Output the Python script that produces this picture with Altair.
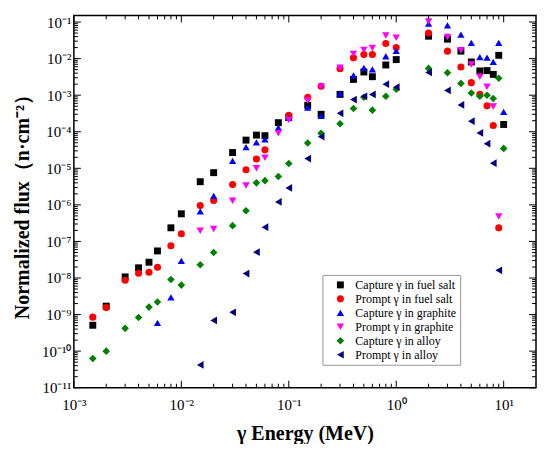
import altair as alt
import pandas as pd

energy = [0.0015, 0.002, 0.003, 0.004, 0.005, 0.006, 0.008, 0.01, 0.015, 0.02,
          0.03, 0.04, 0.05, 0.06, 0.08, 0.1, 0.15, 0.2, 0.3, 0.4, 0.5, 0.6, 0.8, 1.0,
          2, 3, 4, 5, 6, 7, 8, 9, 10]

capture_fuel = [5.1e-10, 1.7e-9, 1.07e-8, 1.9e-8, 2.7e-8, 5.5e-8, 2.36e-7, 5.7e-7, 4.3e-6, 7.6e-6,
                2.7e-5, 5.9e-5, 8.1e-5, 7.8e-5, 1.77e-4, 2.5e-4, 5.3e-4, 3.0e-4, 1.05e-3, 2.7e-3, 4.3e-3, 3.2e-3, 6.7e-3, 9.4e-3,
                0.041, 0.034, 0.016, 8.1e-3, 4.6e-3, 4.7e-3, 3.7e-3, 0.0123, 1.58e-4]
prompt_fuel = [8.5e-10, 1.55e-9, 8.7e-9, 1.35e-8, 1.44e-8, 1.96e-8, 7.6e-8, 1.62e-7, 9.6e-7, 1.32e-6,
               3.6e-6, 9.1e-6, 1.8e-5, 3.2e-5, None, 2.8e-4, 8.7e-4, 1.75e-3, 5.3e-3, 1.05e-2, 1.29e-2, 1.29e-2, 2.6e-2, 2.0e-2,
               0.050, 0.016, 5.9e-3, 2.2e-3, 1.05e-3, 5.1e-4, 1.48e-4, 2.35e-7, None]
capture_graphite = [None, None, None, None, None, 5.9e-10, 2.95e-9, 2.95e-8, 6.6e-7, 1.77e-6,
                    1.6e-5, 3.8e-5, 5.1e-5, 6.2e-5, 1.3e-4, 2.4e-4, 4.6e-4, 2.7e-4, 1.1e-3, 3.5e-3, 5.6e-3, 5.1e-3, 1.16e-2, 1.63e-2,
                    0.091, 0.081, 0.045, 0.027, 1.1e-2, 1.07e-2, 8.1e-3, 0.027, 3.5e-4]
prompt_graphite = [None, None, None, None, None, None, None, None, 1.95e-7, 2.2e-7,
                   1.3e-6, 3.4e-6, 1.0e-5, 1.95e-5, 9.1e-5, 2.1e-4, 7.2e-4, 1.7e-3, 5.6e-3, 1.35e-2, 1.73e-2, 1.95e-2, 4.3e-2, 3.7e-2,
                   0.104, 0.039, 0.017, 6.9e-3, 3.2e-3, 1.7e-3, 4.9e-4, 4.8e-7, None]
capture_alloy = [6.3e-11, 1.0e-10, 4.2e-10, 8.3e-10, 1.6e-9, 2.2e-9, 9.1e-9, 6.4e-9, 2.3e-8, 5.0e-8,
                 2.7e-7, 6.9e-7, 4.0e-6, 4.6e-6, 6.0e-6, 1.36e-5, 4.9e-5, 9.1e-5, 1.66e-4, 4.3e-4, 8.8e-4, 3.9e-4, 9.3e-4, 1.45e-3,
                 5.4e-3, 4.1e-3, 2.1e-3, 1.15e-3, 9.3e-4, 1.0e-3, 8.1e-4, 2.9e-3, 3.5e-5]
prompt_alloy = [None, None, None, None, None, None, None, None, 4.2e-11, 6.9e-10,
                1.15e-9, 1.32e-8, 5.1e-8, 2.45e-7, 1.2e-6, 2.9e-6, 1.85e-5, 7.3e-5, 3.2e-4, 7.6e-4, 9.3e-4, 1.05e-3, 2.0e-3, 1.65e-3,
                4.2e-3, 1.35e-3, 5.4e-4, 1.95e-4, 9.3e-5, 4.7e-5, 1.38e-5, 1.62e-8, None]

series_names = ["Capture γ in fuel salt", "Prompt γ in fuel salt", "Capture γ in graphite",
                "Prompt γ in graphite", "Capture γ in alloy", "Prompt γ in alloy"]
series_values = [capture_fuel, prompt_fuel, capture_graphite, prompt_graphite, capture_alloy, prompt_alloy]
colors = ["#000000", "#ff0000", "#0000ff", "#ff00ff", "#008000", "#000080"]
shapes = ["square", "circle", "triangle-up", "triangle-down", "diamond", "triangle-left"]
sizes = [48, 60, 80, 80, 62, 80]

x_decades = [1e-3, 1e-2, 1e-1, 1, 10]
x_labels = ["10⁻³", "10⁻²", "10⁻¹", "10⁰", "10¹"]
y_decades = [1e-11, 1e-10, 1e-9, 1e-8, 1e-7, 1e-6, 1e-5, 1e-4, 1e-3, 1e-2, 1e-1]
y_labels = ["10⁻¹¹", "10⁻¹⁰", "10⁻⁹", "10⁻⁸", "10⁻⁷", "10⁻⁶", "10⁻⁵", "10⁻⁴", "10⁻³", "10⁻²", "10⁻¹"]
multipliers = [2, 3, 4, 5, 6, 7, 8, 9]

rows = []
for name, vals in zip(series_names, series_values):
    for e, v in zip(energy, vals):
        if v is not None:
            rows.append({"energy": e, "flux": v, "series": name})
df = pd.DataFrame(rows)

W, H = 463, 373
X_MAX, Y_MAX = 20, 0.152
xscale = alt.Scale(type="log", domain=[1e-3, X_MAX], nice=False)
yscale = alt.Scale(type="log", domain=[1e-11, Y_MAX], nice=False)

FONT = "Liberation Serif"

x_label_expr = "[" + ",".join("'%s'" % s for s in x_labels) + "][round(log(datum.value)/LN10)+3]"
y_label_expr = "[" + ",".join("'%s'" % s for s in y_labels) + "][round(log(datum.value)/LN10)+11]"

legend = alt.Legend(title=None, orient="none", legendX=249, legendY=260,
                    strokeColor="#999999", fillColor="white", padding=4,
                    labelFont=FONT, labelFontSize=12, labelColor="black",
                    symbolSize=45, symbolStrokeWidth=0, rowPadding=2,
                    symbolOffset=8, labelOffset=9)

points = alt.Chart(df).mark_point(filled=True, opacity=1).encode(
    x=alt.X("energy:Q", scale=xscale,
            axis=alt.Axis(values=x_decades, labelExpr=x_label_expr, title="γ Energy (MeV)",
                          ticks=False, tickSize=0, domain=False, grid=False, labelPadding=10,
                          labelFont=FONT, labelFontSize=15, labelColor="black",
                          titleFont=FONT, titleFontSize=20, titleFontWeight="bold",
                          titleColor="black", titlePadding=11, labelFlush=False)),
    y=alt.Y("flux:Q", scale=yscale,
            axis=alt.Axis(values=y_decades, labelExpr=y_label_expr, title="Normalized flux（n·cm⁻²）",
                          ticks=False, tickSize=0, domain=False, grid=False, labelPadding=3,
                          labelFont=FONT, labelFontSize=15, labelColor="black",
                          titleFont=FONT, titleFontSize=20, titleFontWeight="bold",
                          titleColor="black", titlePadding=9, labelFlush=False)),
    color=alt.Color("series:N", scale=alt.Scale(domain=series_names, range=colors), legend=legend),
    shape=alt.Shape("series:N", scale=alt.Scale(domain=series_names, range=shapes), legend=legend),
    size=alt.Size("series:N", scale=alt.Scale(domain=series_names, range=sizes), legend=None),
)

x_minor = [m * d for d in x_decades for m in multipliers if m * d < X_MAX]
y_minor = [m * d for d in y_decades for m in multipliers if m * d < Y_MAX]

MAJOR, MINOR = 7, 4


def xticks(vals, length):
    d = pd.DataFrame({"energy": vals})
    base = alt.Chart(d).mark_rule(color="black", strokeWidth=1)
    bottom = base.encode(x=alt.X("energy:Q", scale=xscale), y=alt.value(H), y2=alt.value(H - length))
    top = base.encode(x=alt.X("energy:Q", scale=xscale), y=alt.value(0), y2=alt.value(length))
    return [bottom, top]


def yticks(vals, length):
    d = pd.DataFrame({"flux": vals})
    base = alt.Chart(d).mark_rule(color="black", strokeWidth=1)
    left = base.encode(y=alt.Y("flux:Q", scale=yscale), x=alt.value(0), x2=alt.value(length))
    right = base.encode(y=alt.Y("flux:Q", scale=yscale), x=alt.value(W), x2=alt.value(W - length))
    return [left, right]


layers = [points] + xticks(x_decades, MAJOR) + xticks(x_minor, MINOR) + yticks(y_decades, MAJOR) + yticks(y_minor, MINOR)

chart = alt.layer(*layers).properties(
    width=W, height=H,
    autosize=alt.AutoSizeParams(type="none"),
    padding={"left": 66, "top": 7, "right": 6, "bottom": 56},
    background="white",
).configure_view(stroke="black", strokeWidth=1.5)

chart.save("out.html", embed_options={"renderer": "svg", "actions": False})
